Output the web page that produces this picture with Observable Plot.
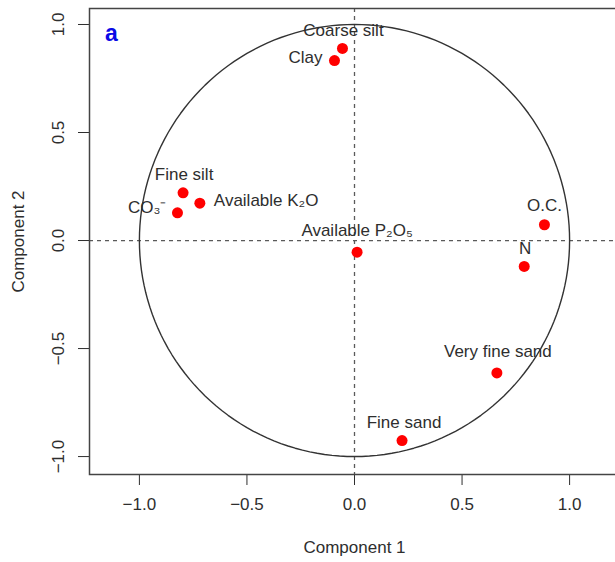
<!DOCTYPE html>
<html>
<head>
<meta charset="utf-8">
<script src="https://cdn.jsdelivr.net/npm/d3@7"></script>
<script src="https://cdn.jsdelivr.net/npm/@observablehq/plot@0.6"></script>
<style>
html, body { margin: 0; padding: 0; overflow: hidden; background: white; }
</style>
</head>
<body>
<div id="chart"></div>
<script>
// Data (loadings on Component 1 and Component 2)
const variables = ["Coarse silt", "Clay", "Fine silt", "Available K₂O", "CO₃⁻", "Available P₂O₅", "O.C.", "N", "Very fine sand", "Fine sand"];
const comp1 = [-0.056, -0.093, -0.797, -0.719, -0.823, 0.012, 0.883, 0.789, 0.662, 0.221];
const comp2 = [0.889, 0.833, 0.221, 0.173, 0.128, -0.054, 0.073, -0.120, -0.613, -0.926];
const xTicks = [-1.0, -0.5, 0.0, 0.5, 1.0];
const yTicks = [-1.0, -0.5, 0.0, 0.5, 1.0];
const xTitle = "Component 1";
const yTitle = "Component 2";
const panelLetter = "a";

// Label placement (style only)
const labelStyle = {
  "Coarse silt": {dx: 1, dy: -18, anchor: "middle"},
  "Clay": {dx: -12, dy: -3, anchor: "end"},
  "Fine silt": {dx: 1, dy: -18, anchor: "middle"},
  "Available K₂O": {dx: 14, dy: -3, anchor: "start"},
  "CO₃⁻": {dx: -11, dy: -5, anchor: "end"},
  "Available P₂O₅": {dx: 0, dy: -22, anchor: "middle"},
  "O.C.": {dx: 0, dy: -19, anchor: "middle"},
  "N": {dx: 1, dy: -18, anchor: "middle"},
  "Very fine sand": {dx: 1, dy: -21, anchor: "middle"},
  "Fine sand": {dx: 2, dy: -18, anchor: "middle"}
};

const table = variables.map((v, i) => ({name: v, x: comp1[i], y: comp2[i]}));

// unit circle (reference geometry)
const circle = d3.range(0, 361, 2).map(a => ({x: Math.cos(a * Math.PI / 180), y: Math.sin(a * Math.PI / 180)}));

const fmt = d3.format(".1f");
const textColor = "#2e2e2e";

// individual labels with their own offsets
const labels = table.map(d => Plot.text([d], {
  x: "x", y: "y", text: "name",
  textAnchor: labelStyle[d.name].anchor,
  dx: labelStyle[d.name].dx, dy: labelStyle[d.name].dy,
  fill: textColor
}));

const chart = Plot.plot({
  width: 625,
  height: 562,
  marginLeft: 89,
  marginRight: 6,
  marginTop: 8,
  marginBottom: 88,
  style: {
    fontFamily: "'Liberation Sans', Arial, Helvetica, sans-serif",
    fontSize: "17px",
    color: textColor,
    background: "white",
    maxWidth: "none",
    overflow: "hidden"
  },
  x: {domain: [-1.232, 1.232], ticks: xTicks, tickSize: 11, tickPadding: 12, tickFormat: fmt, label: null},
  y: {domain: [-1.083, 1.074], ticks: yTicks, tickSize: 11, tickFormat: () => "", label: null},
  marks: [
    Plot.ruleY([0], {stroke: "#5a5a5a", strokeWidth: 1.3, strokeDasharray: "4,4"}),
    Plot.ruleX([0], {stroke: "#5a5a5a", strokeWidth: 1.3, strokeDasharray: "4,4"}),
    Plot.line(circle, {x: "x", y: "y", stroke: "#333", strokeWidth: 1.4}),
    Plot.frame({stroke: "#444", strokeWidth: 1.5}),
    Plot.dot(table, {x: "x", y: "y", r: 5.5, fill: "#ff0000", stroke: "none"}),
    ...labels,
    Plot.text(yTicks, {y: d => d, text: d => fmt(d), frameAnchor: "left", dx: -31, rotate: -90, textAnchor: "middle", lineAnchor: "middle", fill: textColor}),
    Plot.text([yTitle], {frameAnchor: "left", dx: -71, rotate: -90, textAnchor: "middle", lineAnchor: "middle", fill: textColor}),
    Plot.text([xTitle], {frameAnchor: "bottom", dy: 73, textAnchor: "middle", lineAnchor: "middle", fill: textColor}),
    Plot.text([panelLetter], {frameAnchor: "top-left", dx: 22, dy: 25, fill: "#0a0ae6", fontWeight: "bold", fontSize: 23, textAnchor: "middle", lineAnchor: "middle"})
  ]
});
document.getElementById("chart").appendChild(chart);
</script>
</body>
</html>
